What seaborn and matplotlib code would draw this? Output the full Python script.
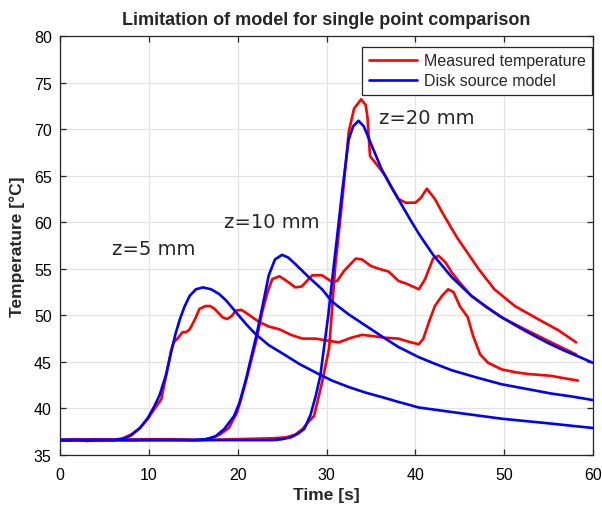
import matplotlib
matplotlib.use("Agg")
import matplotlib.pyplot as plt
import seaborn as sns
import pandas as pd

# ---------------- data ----------------
meas5_t = [0, 2, 3, 5, 6, 7.1, 8, 9, 9.9, 10.6, 11.4, 12.1, 12.5, 12.8, 13.3, 13.8, 14.2, 14.6, 15.2, 15.7,
           16.4, 16.9, 17.4, 18.3, 18.8, 19.3, 19.8, 20.4, 21.2, 22.4, 23.5, 24.7, 26, 27.3, 28.8, 30, 31.4,
           32.8, 34.0, 35, 36.5, 38.1, 39.5, 40.4, 40.9, 41.5, 42.2, 43, 43.7, 44.3, 45.0, 45.9, 46.5, 47.3,
           48.2, 49.7, 51.2, 52.7, 55.3, 57, 58.3]
meas5_T = [36.6, 36.7, 36.5, 36.7, 36.6, 36.8, 37.2, 37.9, 38.9, 39.9, 41.0, 44.2, 46.2, 47.1, 47.6, 48.2, 48.2,
           48.5, 49.6, 50.7, 51.0, 51.0, 50.7, 49.8, 49.6, 49.9, 50.5, 50.6, 50.1, 49.3, 48.8, 48.5, 47.9, 47.5,
           47.5, 47.3, 47.1, 47.6, 47.9, 47.8, 47.6, 47.5, 47.1, 46.9, 47.5, 49.2, 51.0, 52.1, 52.8, 52.5, 51.0,
           49.8, 47.8, 45.8, 44.9, 44.2, 43.9, 43.7, 43.5, 43.2, 43.0]

meas10_t = [0, 4, 8, 12, 16, 17, 18, 19, 19.9, 20.3, 20.9, 22.1, 22.8, 23.4, 23.9, 24.7, 25.5, 26.5, 27.2, 28.4,
            29.5, 30.6, 31.2, 32, 33.3, 34, 35, 35.9, 37, 38.1, 39, 40.4, 41.1, 42.0, 42.6, 43.4, 44.1, 45.2,
            46.3, 48, 49.7, 51.5, 53.4, 55.5, 58.1]
meas10_T = [36.6, 36.7, 36.6, 36.7, 36.6, 36.8, 37.2, 37.9, 39.5, 40.7, 42.8, 47.3, 50.5, 52.6, 53.9, 54.2, 53.7,
            53.0, 53.1, 54.3, 54.3, 53.6, 53.7, 54.8, 56.1, 56.0, 55.3, 55.0, 54.7, 53.7, 53.4, 52.8, 53.9, 56.1,
            56.4, 55.7, 54.6, 53.3, 52.1, 50.9, 49.8, 48.9, 48.0, 47.0, 45.8]

meas20_t = [0, 5, 10, 15, 20, 24, 25.5, 26.5, 27.3, 28, 28.6, 29.5, 30.3, 31.0, 31.8, 32.5, 33.1, 33.9, 34.4,
            34.6, 34.9, 35.9, 36.6, 37.3, 38.1, 38.9, 40.0, 40.6, 41.3, 42.2, 43.0, 44.1, 44.8, 45.6, 47.1,
            48.9, 51.2, 53.8, 56.1, 58.1]
meas20_T = [36.6, 36.6, 36.7, 36.6, 36.7, 36.8, 36.9, 37.2, 37.8, 38.6, 39.2, 42.8, 46.5, 55.4, 62.6, 69.7, 72.2,
            73.2, 72.6, 71.4, 67.1, 65.9, 65.0, 63.8, 62.5, 62.1, 62.1, 62.6, 63.6, 62.5, 61.1, 59.3, 58.2, 57.1,
            55.0, 52.8, 51.0, 49.6, 48.4, 47.1]

model5_t = [0, 6, 7, 8, 9, 9.9, 10.6, 11.2, 11.9, 12.5, 13.0, 13.5, 14.0, 14.6, 15.3, 16.1, 17.0, 17.9, 18.7,
            19.4, 20.2, 21, 22, 23.5, 25.4, 26.9, 29.1, 30.6, 32.5, 34.4, 36.3, 38.1, 40.4, 45, 49.7, 55, 60]
model5_T = [36.6, 36.6, 36.7, 37.1, 37.9, 39.0, 40.2, 41.4, 43.5, 46.0, 48.0, 49.6, 50.9, 52.1, 52.8, 53.0, 52.8,
            52.3, 51.6, 50.8, 49.9, 49.0, 48.0, 46.8, 45.7, 44.8, 43.7, 43.0, 42.3, 41.7, 41.2, 40.7, 40.1, 39.5,
            38.9, 38.4, 37.9]

model10_t = [0, 15, 16.4, 17.5, 18.5, 19.6, 20.2, 20.9, 21.5, 22.1, 22.8, 23.5, 24.2, 25.0, 25.7, 26.5, 28.0,
             29.5, 30.6, 31.4, 32.5, 34.4, 36.3, 38.1, 40.4, 42.2, 44.1, 47, 49.7, 52.5, 55.3, 57.5, 60]
model10_T = [36.6, 36.6, 36.7, 37.0, 37.8, 39.2, 40.6, 43.0, 45.4, 47.8, 51.0, 54.3, 56.0, 56.5, 56.2, 55.5, 54.1,
             52.8, 51.5, 50.9, 50.1, 48.9, 47.7, 46.6, 45.5, 44.8, 44.1, 43.3, 42.6, 42.1, 41.6, 41.3, 40.9]

model20_t = [0, 24, 25, 26, 26.8, 27.5, 28.2, 28.8, 29.3, 29.7, 30.2, 30.6, 31.2, 31.8, 32.5, 33.0, 33.6, 34.2,
             34.8, 35.5, 36.2, 37.4, 38.5, 39.6, 40.5, 42.0, 44.1, 46.3, 48, 49.7, 51.5, 53.4, 55, 56.8, 58.3, 60]
model20_T = [36.6, 36.6, 36.7, 36.9, 37.3, 37.8, 39.3, 41.4, 43.5, 46.4, 50.0, 53.5, 58.5, 63.6, 68.9, 70.3, 70.9,
             70.3, 68.9, 67.3, 65.7, 63.6, 61.8, 60.0, 58.6, 56.5, 54.1, 52.1, 50.9, 49.8, 48.8, 47.8, 47.0, 46.2,
             45.6, 44.9]

labels = ["Measured temperature", "Disk source model"]
annotations = ["z=5 mm", "z=10 mm", "z=20 mm"]
ann_pos = [(5.8, 56.6), (18.5, 59.5), (35.9, 70.7)]
x_ticks = [0, 10, 20, 30, 40, 50, 60]
y_ticks = [35, 40, 45, 50, 55, 60, 65, 70, 75, 80]

# ---------------- style ----------------
sns.set_theme(style="white")
plt.rcParams['font.family'] = ['Liberation Sans', 'DejaVu Sans']
axcol = "#262626"

fig = plt.figure(figsize=(6.02, 5.10), dpi=100)
ax = fig.add_axes([60 / 602, 54 / 510, 533 / 602, 419 / 510])

lw = 1.9
meas = [(meas5_t, meas5_T), (meas10_t, meas10_T), (meas20_t, meas20_T)]
model = [(model5_t, model5_T), (model10_t, model10_T), (model20_t, model20_T)]
for i, (t, T) in enumerate(meas):
    df = pd.DataFrame({"t": t, "T": T})
    sns.lineplot(data=df, x="t", y="T", ax=ax, color="#ff0000", lw=lw, sort=False,
                 label=labels[0] if i == 0 else None, zorder=3)
for i, (t, T) in enumerate(model):
    df = pd.DataFrame({"t": t, "T": T})
    sns.lineplot(data=df, x="t", y="T", ax=ax, color="#0000ff", lw=lw, sort=False,
                 label=labels[1] if i == 0 else None, zorder=4)

ax.set_xlim(0, 60)
ax.set_ylim(35, 80)
ax.set_xticks(x_ticks)
ax.set_yticks(y_ticks)
ax.grid(True, color="#e3e3e3", lw=0.9, zorder=0)
ax.set_axisbelow(True)
for s in ax.spines.values():
    s.set_color(axcol)
    s.set_linewidth(0.9)
    s.set_visible(True)
ax.tick_params(direction="in", length=4, width=0.9, color=axcol, labelcolor="black",
               labelsize=11.5, top=True, right=True, bottom=True, left=True)
ax.tick_params(axis="x", pad=9)
ax.tick_params(axis="y", pad=6)

ax.set_xlabel("Time [s]", fontsize=12.5, fontweight="bold", labelpad=3)
ax.set_ylabel("Temperature [°C]", fontsize=12.5, fontweight="bold", labelpad=6)
ax.set_title("Limitation of model for single point comparison", fontsize=13,
             fontweight="bold", pad=9)

for txt, (x, y) in zip(annotations, ann_pos):
    ax.text(x, y, txt, fontsize=14, family=["DejaVu Sans"], ha="left", va="baseline", zorder=5)

leg = ax.legend(loc="upper right", bbox_to_anchor=(532 / 533, (456 - 48) / 419), borderaxespad=0,
                fancybox=False, framealpha=1, edgecolor=axcol, fontsize=11.5,
                handlelength=3.0, handletextpad=0.45, labelspacing=0.3, borderpad=0.4)
leg.get_frame().set_linewidth(0.9)

fig.savefig("out.png", dpi=100)
